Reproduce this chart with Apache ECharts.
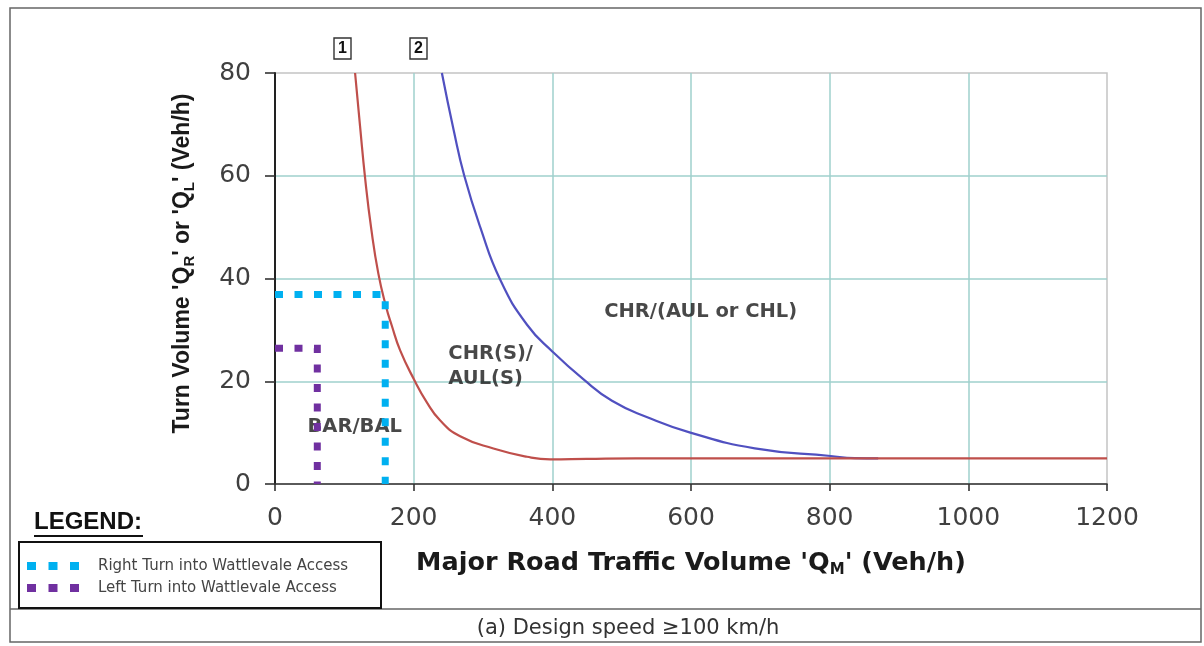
<!DOCTYPE html>
<html>
<head>
<meta charset="utf-8">
<script src="https://cdn.jsdelivr.net/npm/echarts@6/dist/echarts.min.js"></script>
<style>html,body{margin:0;padding:0;background:#fff;}#c{width:1204px;height:646px;}</style>
</head>
<body>
<div id="c"></div>
<script>
// ---- data ----
var xTicks = [0, 200, 400, 600, 800, 1000, 1200];
var yTicks = [0, 20, 40, 60, 80];
var curve1 = [[115.5,80],[122.7,69.6],[130,59.5],[139,49.5],[149,41],[160,34.6],[168.5,30.8],[180.5,26],[200.7,20.3],[219,15.9],[238,12.4],[267,9.3],[315,6.9],[363.5,5.3],[397,4.8],[450,4.9],[520,5],[700,5],[1000,5],[1200,5]];
var curve2 = [[240.7,80],[257.5,69],[273,60],[296,50],[325,39.7],[363.5,31],[400.7,25.7],[444.6,20.4],[486,16.2],[537,13],[599,10],[692,6.95],[801.5,5.45],[836,5.05],[870,5.0]];
var rightTurn = [[0,36.9],[159,36.9],[159,0]];
var leftTurn = [[0,26.4],[61,26.4],[61,0]];
var regionLabels = ['BAR/BAL', 'CHR(S)/\nAUL(S)', 'CHR/(AUL or CHL)'];
var legendNames = ['Right Turn into Wattlevale Access', 'Left Turn into Wattlevale Access'];
var curveTags = ['1', '2'];
var caption = '(a) Design speed \u2265100 km/h';

var FONT = '"Liberation Sans", Arial, Helvetica, sans-serif';
var WIDE = '"DejaVu Sans", Verdana, sans-serif';
var RED = '#bf4f4b', BLUE = '#5050c0', CYAN = '#00b0f0', PURPLE = '#7030a0', GRIDC = '#9fd0cc';

var chart = echarts.init(document.getElementById('c'), null, {renderer: 'canvas'});

function squares(x0, y, color) {
  var arr = [];
  for (var i = 0; i < 3; i++) {
    arr.push({type: 'rect', shape: {x: x0 + i * 21.5, y: y - 4, width: 9, height: 8}, style: {fill: color}, silent: true});
  }
  return arr;
}
function tagBox(cx, txt) {
  return [
    {type: 'rect', shape: {x: cx - 8.5, y: 38, width: 17, height: 21}, style: {fill: '#fff', stroke: '#333', lineWidth: 1.4}},
    {type: 'text', x: cx, y: 49, style: {text: txt, font: 'bold 16px ' + FONT, fill: '#111', align: 'center', verticalAlign: 'middle'}}
  ];
}

var graphics = [
  {type: 'rect', shape: {x: 10, y: 8, width: 1191, height: 634}, style: {fill: 'none', stroke: '#666', lineWidth: 1.5}},
  {type: 'line', shape: {x1: 10, y1: 609, x2: 1201, y2: 609}, style: {stroke: '#666', lineWidth: 1.5}},
  {type: 'text', x: 628, y: 629, style: {text: caption, font: '21px ' + WIDE, fill: '#333', align: 'center', verticalAlign: 'middle'}},
  {type: 'text', x: 34, y: 522, style: {text: 'LEGEND:', font: 'bold 24px ' + FONT, fill: '#111', align: 'left', verticalAlign: 'middle'}},
  {type: 'line', shape: {x1: 34, y1: 536, x2: 143, y2: 536}, style: {stroke: '#111', lineWidth: 1.8}},
  {type: 'rect', shape: {x: 19, y: 542, width: 362, height: 66}, style: {fill: '#fff', stroke: '#111', lineWidth: 2}},
  {type: 'text', x: 98, y: 566, style: {text: legendNames[0], font: '15px ' + WIDE, fill: '#444', align: 'left', verticalAlign: 'middle'}},
  {type: 'text', x: 98, y: 588, style: {text: legendNames[1], font: '15px ' + WIDE, fill: '#444', align: 'left', verticalAlign: 'middle'}}
].concat(squares(27, 566, CYAN), squares(27, 588, PURPLE), tagBox(342.5, curveTags[0]), tagBox(418.5, curveTags[1]));

var dotStyle = function (c) {
  return {color: c, width: 7, type: [8, 11.5], cap: 'butt', join: 'miter'};
};

chart.setOption({
  animation: false,
  backgroundColor: '#fff',
  grid: {left: 275, right: 97, top: 73, bottom: 162, show: true, borderColor: '#c4c4c4', borderWidth: 1.5, backgroundColor: 'transparent'},
  xAxis: {
    type: 'value', min: 0, max: 1200, interval: 200,
    axisLine: {show: true, onZero: false, lineStyle: {color: '#333', width: 1.6}},
    axisTick: {show: true, length: 7, inside: false, lineStyle: {color: '#333', width: 1.6}},
    axisLabel: {margin: 22, fontSize: 25, fontFamily: WIDE, color: '#404040',
      formatter: function (v) { return xTicks.indexOf(v) >= 0 ? String(v) : ''; }},
    splitLine: {show: true, showMinLine: false, showMaxLine: false, lineStyle: {color: GRIDC, width: 1.5}},
    name: "Major Road Traffic Volume 'Q{s|M}' (Veh/h)",
    nameLocation: 'middle', nameGap: 64,
    nameTextStyle: {fontSize: 25.5, fontWeight: 'bold', fontFamily: WIDE, color: '#1a1a1a', lineHeight: 30,
      rich: {s: {fontSize: 15, fontWeight: 'bold', fontFamily: WIDE, color: '#1a1a1a', verticalAlign: 'bottom', lineHeight: 30}}}
  },
  yAxis: {
    type: 'value', min: 0, max: 80, interval: 20,
    axisLine: {show: true, lineStyle: {color: '#222', width: 2}},
    axisTick: {show: true, length: 10, inside: false, lineStyle: {color: '#333', width: 1.6}},
    axisLabel: {margin: 24, fontSize: 25, fontFamily: WIDE, color: '#404040',
      formatter: function (v) { return yTicks.indexOf(v) >= 0 ? String(v) : ''; }},
    splitLine: {show: true, showMinLine: false, showMaxLine: false, lineStyle: {color: GRIDC, width: 1.5}},
    name: "Turn Volume 'Q{s|R}' or 'Q{s|L}' (Veh/h)",
    nameLocation: 'middle', nameGap: 78, nameRotate: 90,
    nameTextStyle: {fontSize: 23, fontWeight: 'bold', fontFamily: FONT, color: '#1a1a1a', lineHeight: 28, padding: [0, 0, 0, 30],
      rich: {s: {fontSize: 15, fontWeight: 'bold', fontFamily: FONT, color: '#1a1a1a', verticalAlign: 'bottom', lineHeight: 28}}}
  },
  series: [
    {type: 'scatter', symbolSize: 0, silent: true, z: 1,
      data: [
        {value: [115, 11.2], label: {formatter: regionLabels[0], align: 'center'}},
        {value: [250, 22.8], label: {formatter: regionLabels[1], align: 'left', lineHeight: 25}},
        {value: [614, 33.4], label: {formatter: regionLabels[2], align: 'center'}}
      ],
      label: {show: true, position: 'inside', fontSize: 19.5, fontWeight: 'bold', fontFamily: WIDE, color: '#1a1a1a', verticalAlign: 'middle'}
    },
    {type: 'line', data: curve1, showSymbol: false, smooth: 0.5, lineStyle: {color: RED, width: 2.2}, z: 3, silent: true},
    {type: 'line', data: curve2, showSymbol: false, smooth: 0.5, lineStyle: {color: BLUE, width: 2.2}, z: 2, silent: true},
    {type: 'line', data: rightTurn, showSymbol: false, lineStyle: dotStyle(CYAN), z: 4, silent: true},
    {type: 'line', data: leftTurn, showSymbol: false, lineStyle: dotStyle(PURPLE), z: 4, silent: true}
  ],
  graphic: {elements: graphics}
});
</script>
</body>
</html>
